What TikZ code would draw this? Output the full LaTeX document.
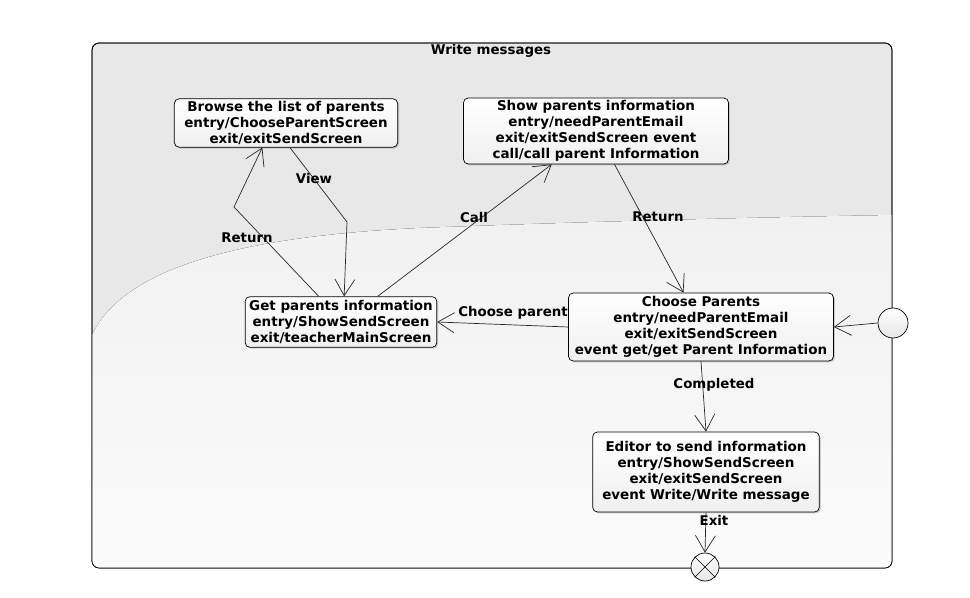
\documentclass[tikz,border=0pt]{standalone}
\usepackage{fontspec}
\setmainfont{DejaVu Sans}
\usetikzlibrary{positioning, arrows.meta, shapes, shadows}
\definecolor{framegray}{RGB}{232, 232, 232}
\definecolor{swooshgray}{RGB}{241, 241, 241}
\definecolor{linegray}{RGB}{40, 40, 40}

\begin{document}
\begin{tikzpicture}[
    x=0.03cm, y=-0.03cm,
    state/.style={rectangle, draw=black, line width=0.6pt, rounded corners=4pt, top color=white, bottom color=gray!12,
        drop shadow={shadow xshift=1.2pt, shadow yshift=-1.2pt, opacity=0.35}, align=center,
        font=\fontsize{11.5}{13.6}\selectfont\bfseries, inner sep=1pt},
    pseudo/.style={circle, draw=black, line width=0.6pt, top color=white, bottom color=gray!20, minimum size=0.9cm, inner sep=0pt},
    arrow/.style={-{Straight Barb[length=14pt, width=17pt]}, line width=0.6pt, draw=linegray},
    label/.style={font=\fontsize{11.4}{13}\selectfont\bfseries, inner sep=1pt}
]
\useasboundingbox (0, 0) rectangle (970, 598);

% Frame of the composite state
\draw[line width=0.6pt, fill=framegray, rounded corners=6pt] (92, 43) rectangle (892, 568);
\begin{scope}
    \clip[rounded corners=6pt] (92, 43) rectangle (892, 568);
    \fill[top color=swooshgray, bottom color=white!70!swooshgray]
        (92, 335) .. controls (125, 265) and (250, 236) .. (420, 228)
        .. controls (600, 221) and (780, 217) .. (892, 215) -- (892, 568) -- (92, 568) -- cycle;
\end{scope}
\draw[line width=0.6pt, rounded corners=6pt] (92, 43) rectangle (892, 568);
\node[label] (title) at (491, 51) {Write messages};

% ============ STATES ============
\node[state, minimum width=6.7cm, minimum height=1.45cm] (browse) at (286, 123)
    {Browse the list of parents\\ entry/ChooseParentScreen\\ exit/exitSendScreen};
\node[state, minimum width=7.95cm, minimum height=1.98cm] (show) at (596, 131)
    {Show parents information\\ entry/needParentEmail\\ exit/exitSendScreen event\\ call/call parent Information};
\node[state, minimum width=5.75cm, minimum height=1.52cm] (get) at (341, 322)
    {Get parents information\\ entry/ShowSendScreen\\ exit/teacherMainScreen};
\node[state, minimum width=7.95cm, minimum height=2.04cm] (choose) at (701, 327)
    {Choose Parents\\ entry/needParentEmail\\ exit/exitSendScreen\\ event get/get Parent Information};
\node[state, minimum width=6.8cm, minimum height=2.4cm] (editor) at (706, 472)
    {Editor to send information\\ entry/ShowSendScreen\\ exit/exitSendScreen\\ event Write/Write message};

% Initial and final pseudo states
\node[pseudo] (init) at (893, 323) {};
\node[pseudo, minimum size=0.84cm] (final) at (705, 567) {};
\draw[line width=0.5pt] (final.45) -- (final.225);
\draw[line width=0.5pt] (final.135) -- (final.315);

% Bends
\coordinate (retbend) at (234, 207);
\coordinate (viewbend) at (347, 222);

% ============ TRANSITIONS ============
\draw[arrow] (get.131.5) -- (retbend) -- (browse.226);
\draw[arrow] (browse.279) -- (viewbend) -- (get.83.4);
\draw[arrow] (get.35) -- (show.217);
\draw[arrow] (show.299) -- (choose.117.9);
\draw[arrow] (choose.west) -- (get.east);
\draw[arrow] (init.west) -- (choose.east);
\draw[arrow] (choose.south) -- (editor.north);
\draw[arrow] (editor.south) -- (final.north);

% Labels
\node[label] (lblreturnA) at (247, 238) {Return};
\node[label] (lblview) at (314, 179) {View};
\node[label] (lblcall) at (474, 218) {Call};
\node[label] (lblreturnB) at (658, 217) {Return};
\node[label] (lblchoose) at (513, 313) {Choose parent};
\node[label] (lblcompleted) at (714, 385) {Completed};
\node[label] (lblexit) at (714, 520) {Exit};

\end{tikzpicture}
\end{document}
